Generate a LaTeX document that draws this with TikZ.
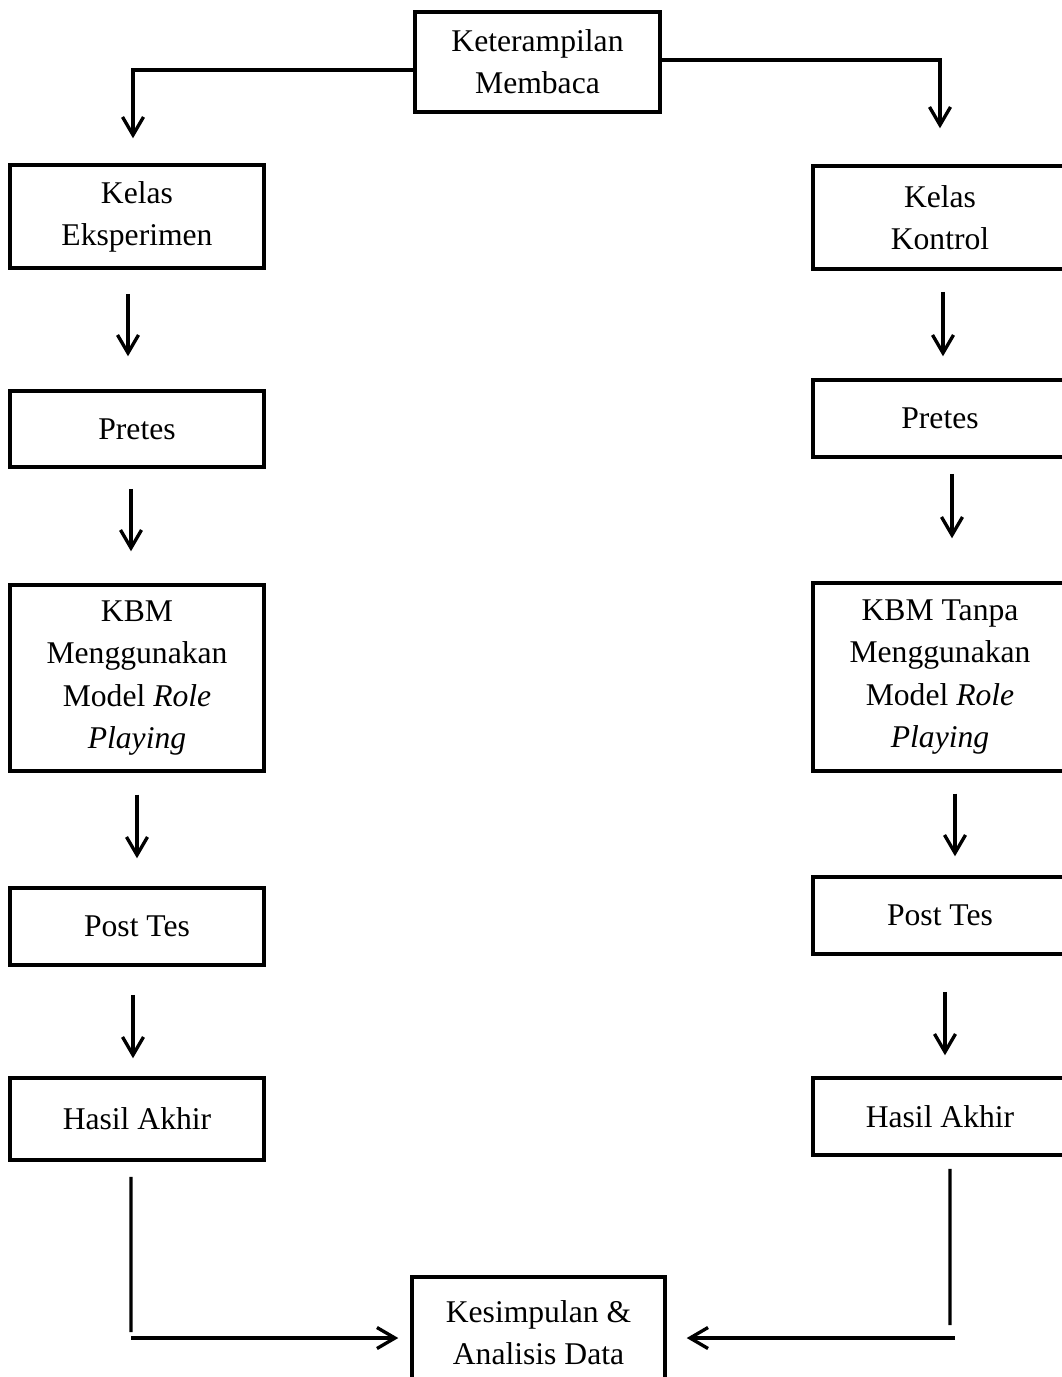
\documentclass[tikz,border=0pt]{standalone}
\usepackage{fontspec}
\setmainfont{Liberation Serif}
\usetikzlibrary{arrows.meta}

\tikzset{
  box/.style={draw,line width=2pt,minimum width=5.08cm,align=center,
    inner sep=2pt,font=\fontsize{18}{24}\selectfont},
  arr/.style={->,line width=1.9pt},
  plain/.style={line width=1.9pt}
}

\begin{document}
\begin{tikzpicture}[x=0.02cm,y=-0.02cm,>={Straight Barb[length=0.36cm,width=0.42cm]}]
  \useasboundingbox (0,0) rectangle (1062,1377);

  % top and bottom
  \node[box,minimum width=4.9cm,minimum height=2cm] (ket) at (537.5,62) {Keterampilan\\Membaca};
  \node[box,minimum width=5.06cm,minimum height=2.24cm] (kes) at (538.5,1333) {Kesimpulan \&\\Analisis Data};

  % kelas eksperimen
  \node[box,minimum height=2.06cm] (keA) at (137,216.5) {Kelas\\Eksperimen};
  \node[box,minimum height=1.52cm] (preA) at (137,429) {Pretes};
  \node[box,minimum height=3.72cm] (kbmA) at (137,678) {KBM\\Menggunakan\\Model \textit{Role}\\\textit{Playing}};
  \node[box,minimum height=1.54cm] (postA) at (137,926.5) {Post Tes};
  \node[box,minimum height=1.64cm] (hasA) at (137,1119) {Hasil Akhir};

  % kelas kontrol
  \node[box,minimum height=2.06cm] (keB) at (940,217.5) {Kelas\\Kontrol};
  \node[box,minimum height=1.54cm] (preB) at (940,418.5) {Pretes};
  \node[box,minimum height=3.76cm] (kbmB) at (940,677) {KBM Tanpa\\Menggunakan\\Model \textit{Role}\\\textit{Playing}};
  \node[box,minimum height=1.54cm] (postB) at (940,915.5) {Post Tes};
  \node[box,minimum height=1.54cm] (hasB) at (940,1116.5) {Hasil Akhir};

  % branches from the top
  \draw[arr] ([yshift=-0.16cm]ket.west) -| ([xshift=-0.08cm,yshift=0.5cm]keA.north);
  \draw[arr] ([yshift=0.04cm]ket.east) -| ([yshift=0.72cm]keB.north);

  % steps in each column
  \foreach \a/\b/\dx/\s/\e in {keA/preA/-0.18/0.48/0.66, preA/kbmA/-0.12/0.40/0.64,
      kbmA/postA/0/0.44/0.56, postA/hasA/-0.08/0.56/0.36,
      keB/preB/0.06/0.42/0.44, preB/kbmB/0.24/0.30/0.86,
      kbmB/postB/0.30/0.42/0.38, postB/hasB/0.10/0.72/0.42}
    \draw[arr,shorten <=\s cm,shorten >=\e cm] ([xshift=\dx cm]\a.south) -- ([xshift=\dx cm]\b.north);

  % into the conclusion
  \coordinate (cornA) at (131,1338);
  \coordinate (cornB) at (955,1338);
  \draw[plain] ([xshift=-0.12cm,yshift=-0.3cm]hasA.south) -- ([yshift=0.12cm]cornA);
  \draw[arr,shorten >=0.24cm] (cornA) -- (cornA -| kes.west);
  \draw[plain] ([xshift=0.2cm,yshift=-0.24cm]hasB.south) -- ([xshift=-0.1cm,yshift=0.26cm]cornB);
  \draw[arr,shorten >=0.4cm] (cornB) -- (cornB -| kes.east);
\end{tikzpicture}
\end{document}
